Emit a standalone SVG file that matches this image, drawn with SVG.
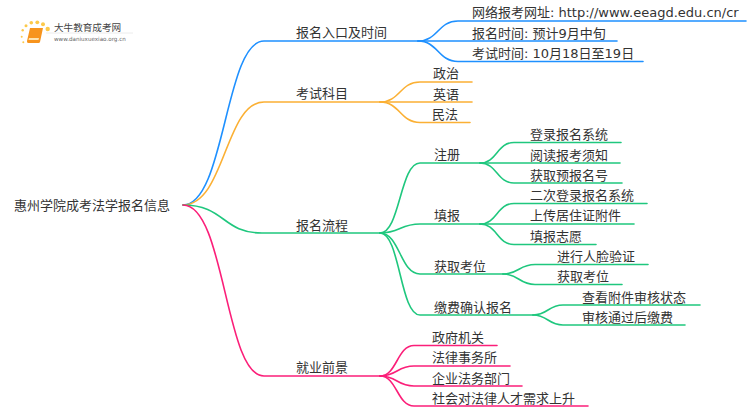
<svg xmlns="http://www.w3.org/2000/svg" width="750" height="410" viewBox="0 0 750 410">
<style>
text{font-family:"DejaVu Sans","Noto Sans CJK SC",sans-serif;font-size:13px;fill:#333}
.c{fill:none;stroke-width:1.6;stroke-linecap:round}
.b{stroke:#1e90ff}.o{stroke:#fbb034}.g{stroke:#1fc77e}.p{stroke:#fb1f79}
.d{fill:#fcc94a}
</style>
<rect width="750" height="410" fill="#fff"/>
<g id="logo">
<circle class="d" cx="47.700" cy="29" r="2.200"/><circle class="d" cx="43" cy="24.300" r="2"/><circle class="d" cx="37.300" cy="22.300" r="1.900"/><circle class="d" cx="31.300" cy="22.700" r="1.800"/><circle class="d" cx="26" cy="25.700" r="1.500"/><circle class="d" cx="22.700" cy="30.300" r="1.200"/><circle class="d" cx="21.700" cy="36.700" r="1"/><circle class="d" cx="23.300" cy="42.300" r="1"/>
<path d="M30 28h13l-3 14q-.3 1-1.500 1h-10q-2 0-1.500-2z" fill="#f7941d"/><path d="M29 38h10l-.5 2h-10z" fill="#fde3b0"/>
<path d="M46 33h87" stroke="#ececec" stroke-width="1"/>
<text x="54" y="31" style="font-size:9.600px;fill:#444">大牛教育成考网</text>
<text x="54" y="41" style="font-size:5.600px;fill:#666">www.daniuxuexiao.org.cn</text>
</g>
<g id="connectors">
<path class="c b" d="M183 205C225 205 225 41 264 41H418"/>
<path class="c b" d="M418 41C438 41 438 21 458 21H746"/>
<path class="c b" d="M418 41H617"/>
<path class="c b" d="M418 41C438 41 438 61.500 458 61.500H643"/>
<path class="c o" d="M183 205C225 205 225 102 264 102H380"/>
<path class="c o" d="M380 102C400 102 400 82 420 82H472"/>
<path class="c o" d="M380 102H472"/>
<path class="c o" d="M380 102C400 102 400 122.500 420 122.500H470"/>
<path class="c g" d="M183 205C225 205 222 233 262 233H380"/>
<path class="c g" d="M380 233C400 233 400 163 420 163H480"/>
<path class="c g" d="M380 233C400 233 400 224 420 224H480"/>
<path class="c g" d="M380 233C400 233 400 274 420 274H503"/>
<path class="c g" d="M380 233C400 233 400 315 420 315H533"/>
<path class="c g" d="M480 163C497 163 497 142.500 514 142.500H621"/>
<path class="c g" d="M480 163H620"/>
<path class="c g" d="M480 163C497 163 497 183 514 183H622"/>
<path class="c g" d="M480 224C497 224 497 203.500 514 203.500H647"/>
<path class="c g" d="M480 224H634"/>
<path class="c g" d="M480 224C497 224 497 244.500 514 244.500H596"/>
<path class="c g" d="M503 274C519 274 519 264.500 535 264.500H648"/>
<path class="c g" d="M503 274C519 274 519 284.500 535 284.500H622"/>
<path class="c g" d="M533 315C548 315 548 305 563 305H700"/>
<path class="c g" d="M533 315C548 315 548 325 563 325H685"/>
<path class="c p" d="M183 205C225 205 225 376 264 376H380"/>
<path class="c p" d="M380 376C397 376 397 345.500 414 345.500H497"/>
<path class="c p" d="M380 376C397 376 397 366 414 366H510"/>
<path class="c p" d="M380 376C397 376 397 386 414 386H522"/>
<path class="c p" d="M380 376C397 376 397 406 414 406H588"/>
</g>
<g id="root"><text x="14" y="210">惠州学院成考法学报名信息</text></g>
<g id="n1"><text x="296" y="37">报名入口及时间</text></g>
<g id="n1a"><text x="472" y="17">网络报考网址: http://www.eeagd.edu.cn/cr</text></g>
<g id="n1b"><text x="472" y="38">报名时间: 预计9月中旬</text></g>
<g id="n1c"><text x="472" y="58">考试时间: 10月18日至19日</text></g>
<g id="n2"><text x="296" y="98">考试科目</text></g>
<g id="n2a"><text x="433" y="78">政治</text></g>
<g id="n2b"><text x="433" y="99">英语</text></g>
<g id="n2c"><text x="432" y="119">民法</text></g>
<g id="n3"><text x="296" y="230">报名流程</text></g>
<g id="n31"><text x="434" y="159">注册</text></g>
<g id="n31a"><text x="530" y="139">登录报名系统</text></g>
<g id="n31b"><text x="530" y="160">阅读报考须知</text></g>
<g id="n31c"><text x="530" y="180">获取预报名号</text></g>
<g id="n32"><text x="434" y="220">填报</text></g>
<g id="n32a"><text x="530" y="200">二次登录报名系统</text></g>
<g id="n32b"><text x="530" y="220">上传居住证附件</text></g>
<g id="n32c"><text x="530" y="241">填报志愿</text></g>
<g id="n33"><text x="434" y="271">获取考位</text></g>
<g id="n33a"><text x="557" y="261">进行人脸验证</text></g>
<g id="n33b"><text x="557" y="281">获取考位</text></g>
<g id="n34"><text x="434" y="312">缴费确认报名</text></g>
<g id="n34a"><text x="582" y="302">查看附件审核状态</text></g>
<g id="n34b"><text x="582" y="322">审核通过后缴费</text></g>
<g id="n4"><text x="296" y="372">就业前景</text></g>
<g id="n4a"><text x="432" y="342">政府机关</text></g>
<g id="n4b"><text x="432" y="362">法律事务所</text></g>
<g id="n4c"><text x="432" y="383">企业法务部门</text></g>
<g id="n4d"><text x="432" y="403">社会对法律人才需求上升</text></g>
</svg>
